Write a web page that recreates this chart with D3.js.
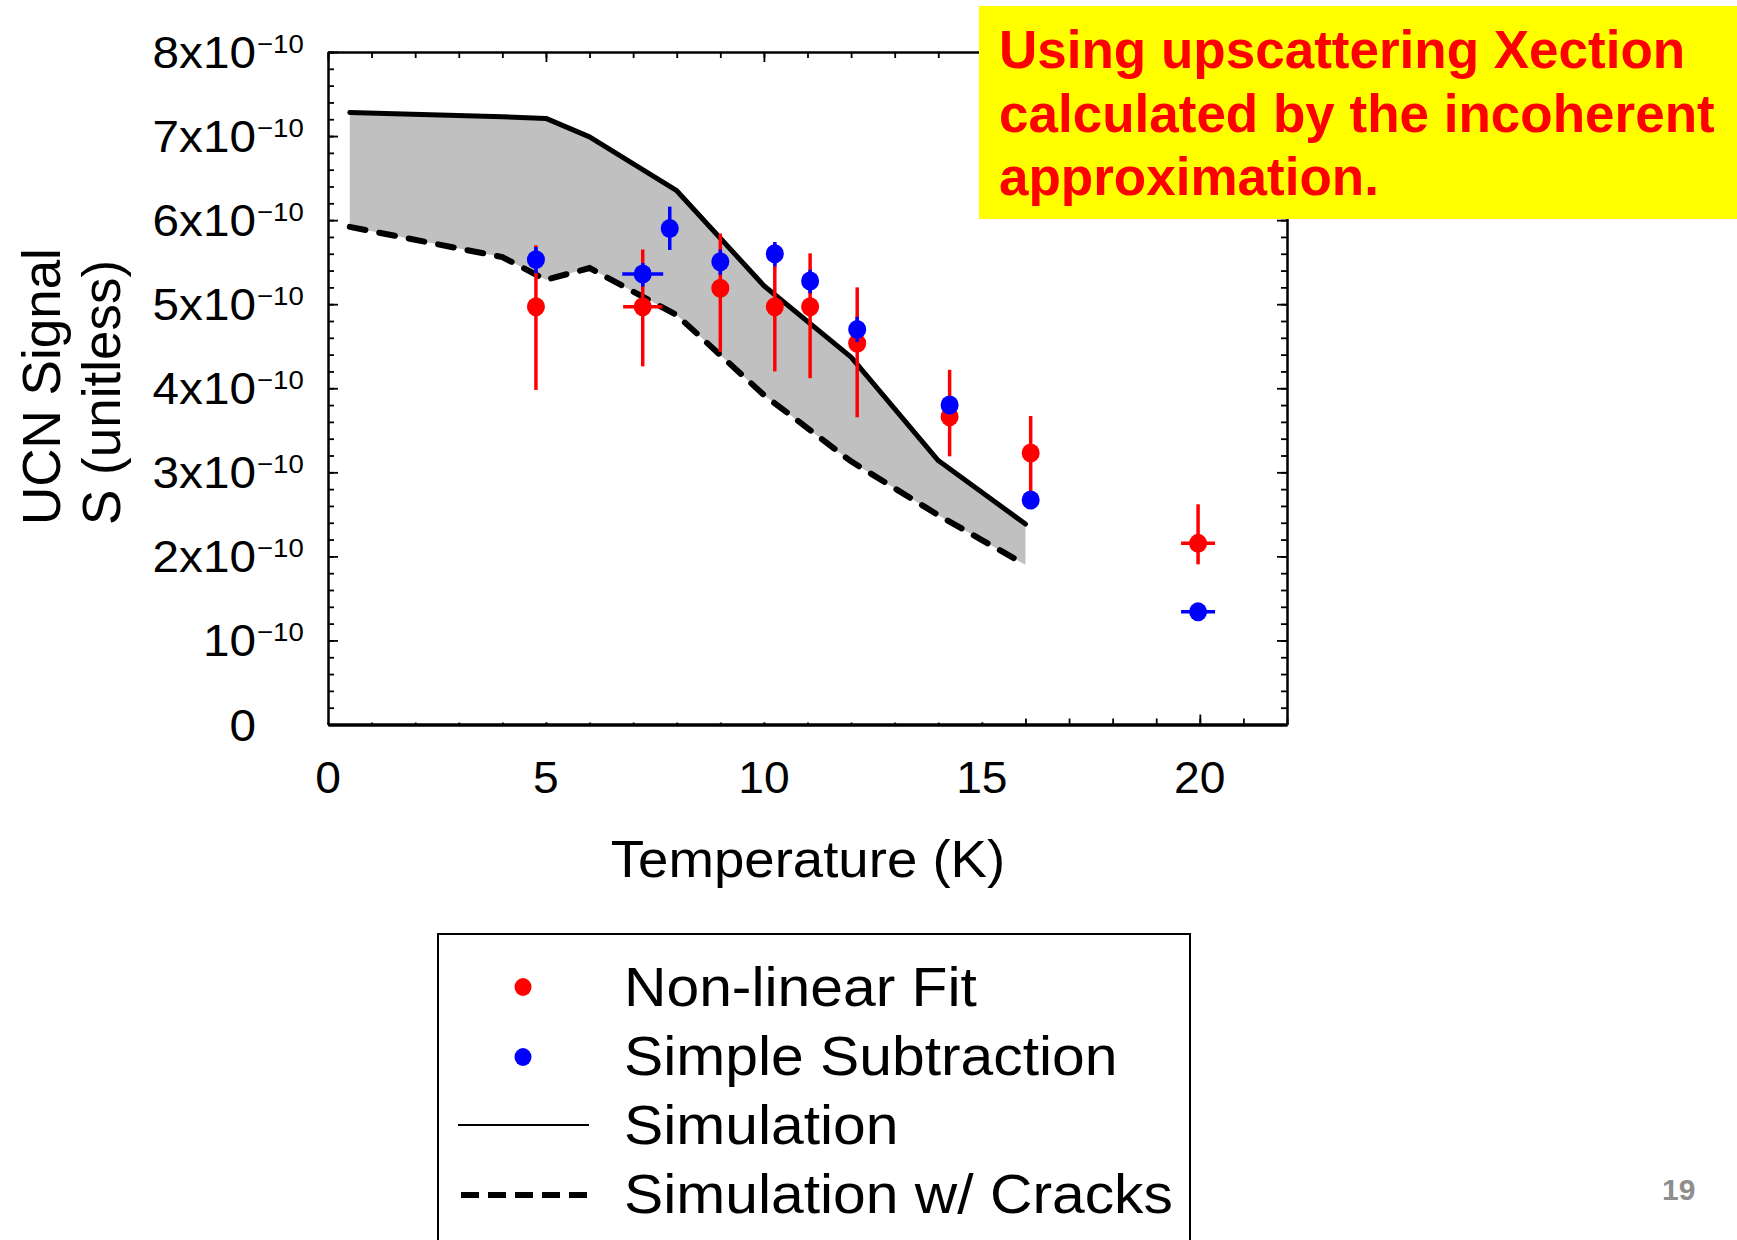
<!DOCTYPE html>
<html><head><meta charset="utf-8">
<script src="https://cdn.jsdelivr.net/npm/d3@7"></script>
<style>
body{margin:0;background:#fff;}
svg{display:block;font-family:"Liberation Sans",Arial,sans-serif;}
</style></head><body>
<svg id="chart" width="1737" height="1240"></svg>
<script>
// values in units of 1e-10
const simT      = [0.5, 4, 5, 6, 8, 10, 12, 14, 16];
const simS      = [7.28, 7.23, 7.21, 6.99, 6.35, 5.22, 4.37, 3.14, 2.385];
const simCracks = [5.92, 5.56, 5.29, 5.43, 4.87, 3.92, 3.13, 2.49, 1.90];

const fitT   = [4.77, 7.22, 9.0, 10.25, 11.06, 12.14, 14.26, 16.12, 19.96];
const fitS   = [4.97, 4.97, 5.19, 4.97, 4.97, 4.535, 3.66, 3.23, 2.155];
const fitLo  = [3.98, 4.26, 4.435, 4.20, 4.12, 3.655, 3.19, 2.76, 1.905];
const fitHi  = [5.70, 5.65, 5.84, 5.72, 5.605, 5.20, 4.22, 3.67, 2.62];
const fitXErr= [0, 0.45, 0, 0, 0, 0, 0, 0, 0.39];

const subT   = [4.77, 7.22, 7.84, 9.0, 10.25, 11.06, 12.14, 14.26, 16.12, 19.96];
const subS   = [5.53, 5.36, 5.90, 5.505, 5.60, 5.275, 4.70, 3.80, 2.67, 1.34];
const subLo  = [5.37, 5.21, 5.645, 5.35, 5.45, 5.13, 4.55, 3.72, 2.62, 1.31];
const subHi  = [5.68, 5.49, 6.16, 5.65, 5.74, 5.41, 4.85, 3.86, 2.72, 1.37];
const subXErr= [0, 0.47, 0, 0, 0, 0, 0, 0, 0, 0.39];

const xMajor = [0, 5, 10, 15, 20];
const xMinor = d3.range(0, 23, 1);
const yMajor = [0, 1, 2, 3, 4, 5, 6, 7, 8];
const yMinor = d3.range(0, 8.01, 0.2);
const yTickMain = ["0", "10", "2x10", "3x10", "4x10", "5x10", "6x10", "7x10", "8x10"];
const yTickSup  = ["", "\u221210", "\u221210", "\u221210", "\u221210", "\u221210", "\u221210", "\u221210", "\u221210"];

const legendLabels = ["Non-linear Fit", "Simple Subtraction", "Simulation", "Simulation w/ Cracks"];
const noteLines = ["Using upscattering Xection", "calculated by the incoherent", "approximation."];

const W = 1737, H = 1240;
const SX = 1.05; // horizontal stretch of the chart graphic's text
const svg = d3.select('#chart');
svg.append('rect').attr('width', W).attr('height', H).attr('fill', '#fff');

function sText(parent, px, py, str, size, anchor, sx) {
  return parent.append('text')
    .attr('transform', `translate(${px},${py}) scale(${sx || SX},1)`)
    .attr('text-anchor', anchor || 'start').attr('font-size', size).text(str);
}

const x = d3.scaleLinear().domain([0, 22]).range([328, 1287]);
const y = d3.scaleLinear().domain([0, 8]).range([724.5, 52]);

// band
const band = simT.map((t, i) => ({t, hi: simS[i], lo: simCracks[i]}));
svg.append('path').datum(band)
  .attr('d', d3.area().x(d => x(d.t)).y0(d => y(d.lo)).y1(d => y(d.hi)))
  .attr('fill', '#c0c0c0');

// axes
function styleAxis(g) {
  g.select('.domain').attr('stroke', '#000').attr('stroke-width', 2);
  g.selectAll('.tick line').attr('stroke', '#000').attr('stroke-width', 1.8);
  g.selectAll('.tick text').remove();
}
const bottomMinor = svg.append('g').attr('transform', `translate(0,${y(0)})`)
  .call(d3.axisBottom(x).tickValues(xMinor).tickSize(-6).tickSizeOuter(0).tickFormat(''));
styleAxis(bottomMinor);
bottomMinor.select('.domain').attr('stroke-width', 3.5);
bottomMinor.selectAll('.tick line').attr('y2', d => d < 16 ? -2 : -6);
const bottomMajor = svg.append('g').attr('transform', `translate(0,${y(0)})`)
  .call(d3.axisBottom(x).tickValues(xMajor).tickSize(-10).tickSizeOuter(0).tickFormat(''));
styleAxis(bottomMajor);
bottomMajor.selectAll('.tick line').attr('y2', d => d < 16 ? -2 : -10);

{
  const gm = svg.append('g').attr('transform', `translate(0,${y(8)})`)
    .call(d3.axisTop(x).tickValues(xMinor).tickSize(-6).tickSizeOuter(0).tickFormat(''));
  styleAxis(gm);
  const gM = svg.append('g').attr('transform', `translate(0,${y(8)})`)
    .call(d3.axisTop(x).tickValues(xMajor).tickSize(-10).tickSizeOuter(0).tickFormat(''));
  styleAxis(gM);
}
[[d3.axisLeft, x(0)], [d3.axisRight, x(22)]].forEach(([ax, pos]) => {
  const gm = svg.append('g').attr('transform', `translate(${pos},0)`)
    .call(ax(y).tickValues(yMinor).tickSize(-6).tickSizeOuter(0).tickFormat(''));
  styleAxis(gm);
  const gM = svg.append('g').attr('transform', `translate(${pos},0)`)
    .call(ax(y).tickValues(yMajor).tickSize(-10).tickSizeOuter(0).tickFormat(''));
  styleAxis(gM);
});

// tick labels
const yl = svg.append('g');
yMajor.forEach((v, i) => {
  sText(yl, 256, y(v) + 16, yTickMain[i], 45, 'end', 1.06);
  if (yTickSup[i]) sText(yl, 257, y(v) + 1, yTickSup[i], 26, 'start', 1.06);
});
xMajor.forEach(v => { sText(svg, x(v), 793, String(v), 44, 'middle'); });

// axis titles
sText(svg, 808, 877, 'Temperature (K)', 52, 'middle');
svg.append('text').attr('transform', 'translate(60,525) rotate(-90)')
  .attr('font-size', 53).text('UCN Signal');
svg.append('text').attr('transform', 'translate(120,525) rotate(-90)')
  .attr('font-size', 53).text('S (unitless)');

// lines
const lineGen = d3.line().x(d => x(d[0])).y(d => y(d[1]));
svg.append('path').datum(simT.map((t, i) => [t, simS[i]]))
  .attr('d', lineGen).attr('fill', 'none').attr('stroke', '#000')
  .attr('stroke-width', 5).attr('stroke-linejoin', 'round').attr('stroke-linecap', 'round');
svg.append('path').datum(simT.map((t, i) => [t, simCracks[i]]))
  .attr('d', lineGen).attr('fill', 'none').attr('stroke', '#000')
  .attr('stroke-width', 6).attr('stroke-dasharray', '16,14').attr('stroke-linecap', 'round');

// points
function drawSeries(T, S, lo, hi, xe, color) {
  const g = svg.append('g');
  T.forEach((t, i) => {
    g.append('line').attr('x1', x(t)).attr('x2', x(t)).attr('y1', y(lo[i])).attr('y2', y(hi[i]))
      .attr('stroke', color).attr('stroke-width', 3.5);
    if (xe[i] > 0) g.append('line').attr('x1', x(t - xe[i])).attr('x2', x(t + xe[i]))
      .attr('y1', y(S[i])).attr('y2', y(S[i])).attr('stroke', color).attr('stroke-width', 3.5);
    g.append('ellipse').attr('cx', x(t)).attr('cy', y(S[i])).attr('rx', 9).attr('ry', 9.5).attr('fill', color);
  });
}
drawSeries(fitT, fitS, fitLo, fitHi, fitXErr, '#ff0000');
drawSeries(subT, subS, subLo, subHi, subXErr, '#0000ff');

// note box
svg.append('rect').attr('x', 979).attr('y', 6).attr('width', W - 979).attr('height', 213).attr('fill', '#ffff00');
noteLines.forEach((s, i) => {
  svg.append('text').attr('x', 999).attr('y', 68 + i * 63.5).attr('font-size', 53)
    .attr('font-weight', 'bold').attr('fill', '#ff0000').text(s);
});

// legend
svg.append('rect').attr('x', 438).attr('y', 934).attr('width', 752).attr('height', 340)
  .attr('fill', 'none').attr('stroke', '#000').attr('stroke-width', 2);
const rows = [1006, 1075, 1144, 1213];
legendLabels.forEach((s, i) => { sText(svg, 624, rows[i], s, 56, 'start'); });
svg.append('ellipse').attr('cx', 523).attr('cy', 987).attr('rx', 8.5).attr('ry', 9).attr('fill', '#ff0000');
svg.append('ellipse').attr('cx', 523).attr('cy', 1057).attr('rx', 8.5).attr('ry', 9).attr('fill', '#0000ff');
svg.append('line').attr('x1', 458).attr('x2', 589).attr('y1', 1125).attr('y2', 1125)
  .attr('stroke', '#000').attr('stroke-width', 2);
svg.append('line').attr('x1', 461).attr('x2', 589).attr('y1', 1195).attr('y2', 1195)
  .attr('stroke', '#000').attr('stroke-width', 6).attr('stroke-dasharray', '18,9');

// page number
svg.append('text').attr('x', 1662).attr('y', 1200).attr('font-size', 30).attr('font-weight', 'bold')
  .attr('fill', '#8e8e8e').text('19');
</script>
</body></html>
